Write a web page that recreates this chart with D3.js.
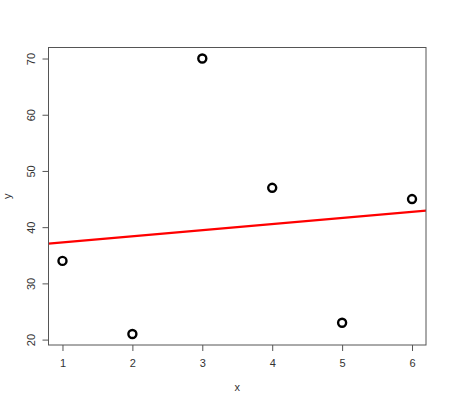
<!DOCTYPE html>
<html><head><meta charset="utf-8">
<script src="https://cdn.jsdelivr.net/npm/d3@7"></script>
<style>body{margin:0;background:#fff}svg{display:block}</style>
</head><body>
<script>
const xs = [1, 2, 3, 4, 5, 6];
const ys = [34, 21, 70, 47, 23, 45];
const xTicks = [1, 2, 3, 4, 5, 6];
const yTicks = [20, 30, 40, 50, 60, 70];
const fitIntercept = 36.2;
const fitSlope = 1.086;

const W = 451, H = 406;
const svg = d3.select("body").append("svg").attr("width", W).attr("height", H);
const L = 48.5, R = 426, T = 47.5, B = 345;
const x = d3.scaleLinear().domain([0.8, 6.2]).range([L, R]);
const y = d3.scaleLinear().domain([19.04, 71.96]).range([B, T]);
const font = "Liberation Sans, Arial, sans-serif";

// fit line (clipped to plot region)
svg.append("clipPath").attr("id","c").append("rect").attr("x",L).attr("y",T).attr("width",R-L).attr("height",B-T);
svg.append("line").attr("clip-path","url(#c)")
  .attr("x1", x(0.8)).attr("y1", y(fitIntercept + fitSlope*0.8))
  .attr("x2", x(6.2)).attr("y2", y(fitIntercept + fitSlope*6.2))
  .attr("stroke", "#ff0000").attr("stroke-width", 2.2);

// points
svg.selectAll("circle.p").data(xs.map((v,i)=>[v, ys[i]])).enter().append("circle")
  .attr("cx", d=>x(d[0])).attr("cy", d=>y(d[1])).attr("r", 4)
  .attr("fill","none").attr("stroke","#000").attr("stroke-width", 2.4);

// box
svg.append("rect").attr("x",L).attr("y",T).attr("width",R-L).attr("height",B-T)
  .attr("fill","none").attr("stroke","#555").attr("stroke-width",1);

// x axis
const xa = svg.append("g").attr("transform",`translate(0,${B})`)
  .call(d3.axisBottom(x).tickValues(xTicks).tickSize(6).tickPadding(8).tickFormat(d3.format("d")));
xa.select(".domain").remove();
xa.selectAll("line").attr("stroke","#555");
xa.selectAll("text").attr("font-family",font).attr("font-size",11).attr("fill","#333");

// y axis
const ya = svg.append("g").attr("transform",`translate(${L},0)`)
  .call(d3.axisLeft(y).tickValues(yTicks).tickSize(6).tickFormat(d3.format("d")));
ya.select(".domain").remove();
ya.selectAll("line").attr("stroke","#555");
ya.selectAll("text").attr("font-family",font).attr("font-size",11).attr("fill","#333")
  .attr("x", null).attr("dy", null)
  .attr("transform", "translate(-14,0) rotate(-90)")
  .attr("text-anchor","middle").attr("dominant-baseline","auto").attr("y", 0);

// axis titles
svg.append("text").attr("x", (L+R)/2).attr("y", 391).attr("text-anchor","middle")
  .attr("font-family",font).attr("font-size",11).attr("fill","#333").text("x");
svg.append("text").attr("transform",`translate(11,${(T+B)/2}) rotate(-90)`).attr("text-anchor","middle")
  .attr("font-family",font).attr("font-size",11).attr("fill","#333").text("y");
</script>
</body></html>
